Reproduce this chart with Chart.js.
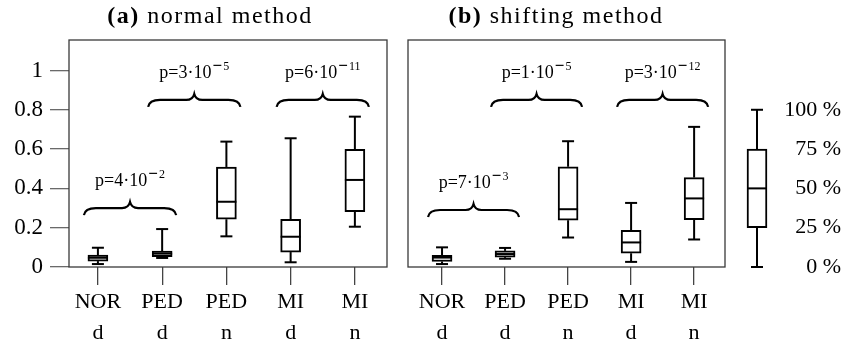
<!DOCTYPE html>
<html>
<head>
<meta charset="utf-8">
<script src="https://cdn.jsdelivr.net/npm/chart.js@4.4.1/dist/chart.umd.min.js"></script>
<style>
  html, body { margin: 0; padding: 0; background: #fff; }
  #wrap { position: relative; width: 841px; height: 348px; overflow: hidden; }
  canvas { position: absolute; top: 0; }
  .title {
    position: absolute; top: 0; width: 400px; height: 30px; line-height: 30px;
    text-align: center; white-space: nowrap; color: #000;
    font-family: 'Liberation Serif', 'Times New Roman', serif; font-size: 24px; letter-spacing: 1.5px;
  }
</style>
</head>
<body>
<div id="wrap">
  <canvas id="panelA" width="400" height="348" style="left:0"></canvas>
  <canvas id="panelB" width="330" height="348" style="left:400px"></canvas>
  <canvas id="legendBox" width="111" height="348" style="left:730px"></canvas>
  <div class="title" style="left:10px"><b>(a)</b> normal method</div>
  <div class="title" style="left:356px"><b>(b)</b> shifting method</div>
</div>
<script>
// groups along the x axis (two-line labels)
const categories = [['NOR', 'd'], ['PED', 'd'], ['PED', 'n'], ['MI', 'd'], ['MI', 'n']];
const yTicks = [0, 0.2, 0.4, 0.6, 0.8, 1];

// (a) normal method: whisker ends, quartiles and medians per group
const normalMin = [0.015, 0.046, 0.156, 0.024, 0.205];
const normalQ1  = [0.030, 0.052, 0.243, 0.076, 0.281];
const normalMed = [0.047, 0.068, 0.332, 0.154, 0.443];
const normalQ3  = [0.061, 0.081, 0.509, 0.243, 0.599];
const normalMax = [0.098, 0.193, 0.638, 0.655, 0.765];

// (a) significance braces: first group of the pair, height, p-value
const normalBraceFrom = [0, 1, 3];
const normalBraceLevel = [0.30, 0.85, 0.85];
const normalPMantissa = ['4', '3', '6'];
const normalPExponent = ['2', '5', '11'];

// (b) shifting method
const shiftMin = [0.015, 0.042, 0.150, 0.026, 0.140];
const shiftQ1  = [0.028, 0.050, 0.238, 0.070, 0.241];
const shiftMed = [0.048, 0.066, 0.294, 0.125, 0.349];
const shiftQ3  = [0.060, 0.082, 0.510, 0.187, 0.455];
const shiftMax = [0.100, 0.097, 0.640, 0.326, 0.713];

const shiftBraceFrom = [0, 1, 3];
const shiftBraceLevel = [0.29, 0.85, 0.85];
const shiftPMantissa = ['7', '1', '3'];
const shiftPExponent = ['3', '5', '12'];

// key box: min, lower quartile, median, upper quartile, max
const legendStats = [0, 0.2, 0.4, 0.6, 0.8];
const legendLabels = ['0 %', '25 %', '50 %', '75 %', '100 %'];

const FONT = "'Liberation Serif', 'Times New Roman', serif";
const Y_MAX = 1.155;

// whiskers behind the boxes, medians on top
const boxPlugin = {
  id: 'whiskers',
  beforeDatasetsDraw(chart, args, o) {
    const { ctx, scales: { x, y } } = chart;
    ctx.save();
    ctx.strokeStyle = '#000';
    ctx.lineWidth = 2;
    o.min.forEach((mn, i) => {
      const px = x.getPixelForValue(o.pos[i]);
      const seg = (a, b) => {
        ctx.beginPath();
        ctx.moveTo(px, y.getPixelForValue(a));
        ctx.lineTo(px, y.getPixelForValue(b));
        ctx.stroke();
      };
      seg(mn, o.q1[i]);
      seg(o.q3[i], o.max[i]);
      [mn, o.max[i]].forEach(v => {
        const py = y.getPixelForValue(v);
        ctx.beginPath();
        ctx.moveTo(px - 6, py);
        ctx.lineTo(px + 6, py);
        ctx.stroke();
      });
    });
    ctx.restore();
  },
  afterDatasetsDraw(chart, args, o) {
    const { ctx, scales: { x, y } } = chart;
    ctx.save();
    ctx.strokeStyle = '#000';
    ctx.lineWidth = 2;
    o.med.forEach((m, i) => {
      const px = x.getPixelForValue(o.pos[i]);
      const py = y.getPixelForValue(m);
      ctx.beginPath();
      ctx.moveTo(px - 10, py);
      ctx.lineTo(px + 10, py);
      ctx.stroke();
    });
    ctx.restore();
  }
};

// box frame around the plotting area
const framePlugin = {
  id: 'frame',
  afterDatasetsDraw(chart, args, o) {
    if (!o.show) return;
    const { ctx, chartArea: a } = chart;
    ctx.save();
    ctx.strokeStyle = '#3a3a3a';
    ctx.lineWidth = 1.3;
    ctx.strokeRect(a.left, a.top, a.right - a.left, a.bottom - a.top);
    ctx.restore();
  }
};

// curly braces joining two groups, with the p-value above
const bracePlugin = {
  id: 'braces',
  afterDatasetsDraw(chart, args, o) {
    if (!o.from) return;
    const { ctx, scales: { x, y } } = chart;
    ctx.save();
    o.from.forEach((g, i) => {
      const x0 = x.getPixelForValue(g) - 14;
      const x1 = x.getPixelForValue(g + 1) + 14;
      const xm = (x0 + x1) / 2;
      const yf = y.getPixelForValue(o.level[i]);
      ctx.strokeStyle = '#000';
      ctx.lineWidth = 2.2;
      ctx.beginPath();
      ctx.moveTo(x0, yf + 7);
      ctx.quadraticCurveTo(x0 + 1, yf, x0 + 12, yf);
      ctx.lineTo(xm - 8, yf);
      ctx.quadraticCurveTo(xm - 1.5, yf, xm, yf - 6);
      ctx.quadraticCurveTo(xm + 1.5, yf, xm + 8, yf);
      ctx.lineTo(x1 - 12, yf);
      ctx.quadraticCurveTo(x1 - 1, yf, x1, yf + 7);
      ctx.stroke();

      const base = 'p=' + o.mant[i] + '·10';
      ctx.font = '18px ' + FONT;
      const wb = ctx.measureText(base).width;
      ctx.font = 'bold 17px ' + FONT;
      const wm = ctx.measureText('−').width;
      ctx.font = '12px ' + FONT;
      const wd = ctx.measureText(o.exp[i]).width;
      const total = wb + 1 + wm + 1 + wd;
      let tx = xm - total / 2;
      const yb = yf - 22;
      ctx.fillStyle = '#000';
      ctx.textAlign = 'left';
      ctx.textBaseline = 'alphabetic';
      ctx.font = '18px ' + FONT;
      ctx.fillText(base, tx, yb);
      tx += wb + 1;
      ctx.font = 'bold 17px ' + FONT;
      ctx.fillText('−', tx, yb - 7);
      tx += wm + 1;
      ctx.font = '12px ' + FONT;
      ctx.fillText(o.exp[i], tx, yb - 8);
    });
    ctx.restore();
  }
};

function boxDataset(q1, q3, pos) {
  return {
    data: q1.map((v, i) => ({ x: pos[i], y: [v, q3[i]] })),
    backgroundColor: '#ffffff',
    borderColor: '#000000',
    borderWidth: 2,
    borderSkipped: false,
    barThickness: 20
  };
}

function panel(id, stats, braces, layout) {
  const pos = categories.map((c, i) => i);
  return new Chart(document.getElementById(id), {
    type: 'bar',
    data: { datasets: [boxDataset(stats.q1, stats.q3, pos)] },
    plugins: [boxPlugin, framePlugin, bracePlugin],
    options: {
      responsive: false,
      animation: false,
      events: [],
      layout: { padding: layout.padding },
      plugins: {
        legend: { display: false },
        tooltip: { enabled: false },
        whiskers: { pos, min: stats.min, q1: stats.q1, q3: stats.q3, max: stats.max, med: stats.med },
        frame: { show: true },
        braces
      },
      scales: {
        x: {
          type: 'linear',
          offset: false,
          min: layout.xMin,
          max: layout.xMax,
          afterBuildTicks: s => { s.ticks = pos.map(v => ({ value: v })); },
          afterFit: s => { s.height = 81; },
          ticks: {
            autoSkip: false,
            maxRotation: 0,
            padding: 1.5,
            color: '#000',
            font: { family: FONT, size: 22, lineHeight: 1.41 },
            callback: v => categories[v]
          },
          grid: { offset: false, drawOnChartArea: false, drawTicks: true, tickLength: 18, color: '#444', lineWidth: 1.3 },
          border: { display: false }
        },
        y: {
          display: layout.showY,
          min: 0,
          max: Y_MAX,
          afterBuildTicks: s => { s.ticks = yTicks.map(v => ({ value: v })); },
          afterFit: s => { s.width = s.options.display ? 69 : 0; },
          ticks: {
            padding: 7,
            color: '#000',
            font: { family: FONT, size: 23 },
            callback: v => String(v)
          },
          grid: { drawOnChartArea: false, drawTicks: true, tickLength: 19, color: '#6a6a6a', lineWidth: 1.3 },
          border: { display: false }
        }
      }
    }
  });
}

panel('panelA',
  { min: normalMin, q1: normalQ1, med: normalMed, q3: normalQ3, max: normalMax },
  { from: normalBraceFrom, level: normalBraceLevel, mant: normalPMantissa, exp: normalPExponent },
  { padding: { left: 0, right: 13, top: 40, bottom: 0 }, xMin: -0.45, xMax: 4.5, showY: true });

panel('panelB',
  { min: shiftMin, q1: shiftQ1, med: shiftMed, q3: shiftQ3, max: shiftMax },
  { from: shiftBraceFrom, level: shiftBraceLevel, mant: shiftPMantissa, exp: shiftPExponent },
  { padding: { left: 8, right: 5, top: 40, bottom: 0 }, xMin: -0.54, xMax: 4.49, showY: false });

// key explaining the box-plot percentiles
new Chart(document.getElementById('legendBox'), {
  type: 'bar',
  data: { datasets: [boxDataset([legendStats[1]], [legendStats[3]], [0])] },
  plugins: [boxPlugin],
  options: {
    responsive: false,
    animation: false,
    events: [],
    layout: { padding: { left: 10, right: 0, top: 40, bottom: 81 } },
    plugins: {
      legend: { display: false },
      tooltip: { enabled: false },
      whiskers: { pos: [0], min: [legendStats[0]], q1: [legendStats[1]], med: [legendStats[2]], q3: [legendStats[3]], max: [legendStats[4]] }
    },
    scales: {
      x: { type: 'linear', offset: false, min: -1, max: 1, display: false },
      y: {
        position: 'right',
        min: 0,
        max: Y_MAX,
        afterBuildTicks: s => { s.ticks = legendStats.map(v => ({ value: v })); },
        afterFit: s => { s.width = 67; },
        ticks: {
          crossAlign: 'far',
          padding: 3,
          color: '#000',
          font: { family: FONT, size: 22 },
          callback: (v, i) => legendLabels[i]
        },
        grid: { display: false, drawTicks: false },
        border: { display: false }
      }
    }
  }
});
</script>
</body>
</html>
